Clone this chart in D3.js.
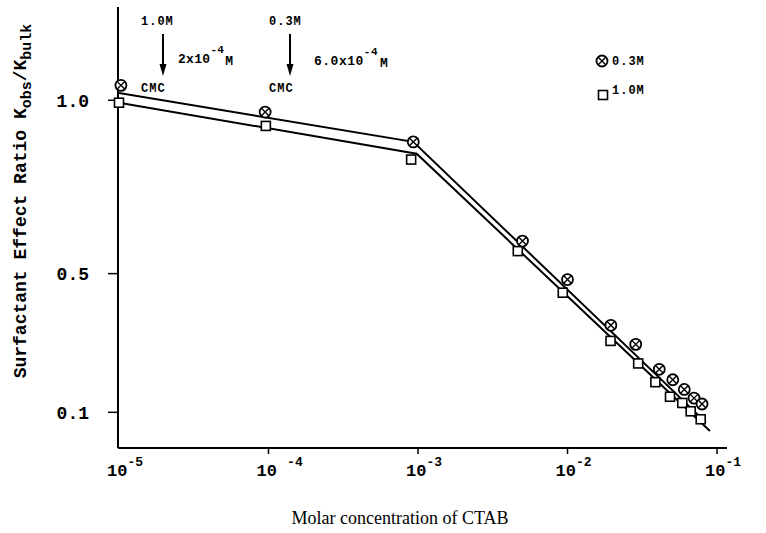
<!DOCTYPE html>
<html>
<head>
<meta charset="utf-8">
<script src="https://cdn.jsdelivr.net/npm/d3@7"></script>
<style>
  body { margin: 0; background: #fff; }
  svg { display: block; }
</style>
</head>
<body>
<div id="chart"></div>
<script>
// 0.3M CTAB points (circle with cross)
var conc03 = [1.03e-5, 9.5e-5, 9.3e-4, 0.0050, 0.0100, 0.0195, 0.0286, 0.0411, 0.0506, 0.0604, 0.0702, 0.0794];
var ratio03 = [1.043, 0.966, 0.880, 0.594, 0.483, 0.351, 0.296, 0.224, 0.194, 0.166, 0.141, 0.124];
// 1.0M CTAB points (open square)
var conc10 = [1.0e-5, 9.6e-5, 9.0e-4, 0.00465, 0.0093, 0.0194, 0.0297, 0.0387, 0.0485, 0.0586, 0.0667, 0.0778];
var ratio10 = [0.993, 0.926, 0.829, 0.565, 0.445, 0.306, 0.241, 0.187, 0.145, 0.127, 0.103, 0.080];
// fitted lines (break at the CMC)
var fitConc03 = [1.0e-5, 9.3e-4, 0.0843];
var fitRatio03 = [1.021, 0.880, 0.071];
var fitConc10 = [1.0e-5, 9.8e-4, 0.0897];
var fitRatio10 = [0.993, 0.846, 0.046];
// ticks
var xTicks = [1e-5, 1e-4, 1e-3, 1e-2, 1e-1];
var xTickExp = ["-5", "-4", "-3", "-2", "-1"];
var yTicks = [1.0, 0.5, 0.1];
var yTickLabels = ["1.0", "0.5", "0.1"];

var width = 766, height = 533;
var mono = "'Liberation Mono', 'DejaVu Sans Mono', monospace";

var svg = d3.select("#chart").append("svg")
    .attr("width", width)
    .attr("height", height);

var x = d3.scaleLog().domain([1e-5, 1e-1]).range([119, 717]);
var y = d3.scaleLinear().domain([0, 1.269]).range([447, 7]);

var axisX0 = 118;

// axes lines
svg.append("line")
    .attr("x1", axisX0).attr("x2", axisX0)
    .attr("y1", y.range()[1]).attr("y2", 448)
    .attr("stroke", "#000").attr("stroke-width", 2);
svg.append("line")
    .attr("x1", axisX0).attr("x2", 727)
    .attr("y1", 448).attr("y2", 448)
    .attr("stroke", "#000").attr("stroke-width", 2);

// x ticks
xTicks.forEach(function(t, i) {
    if (i > 0) {
        svg.append("line")
            .attr("x1", x(t)).attr("x2", x(t))
            .attr("y1", 448).attr("y2", 454)
            .attr("stroke", "#000").attr("stroke-width", 1.5);
    }
    var lab = svg.append("text")
        .attr("x", x(t) - 12)
        .attr("y", 476)
        .attr("font-family", mono)
        .attr("font-weight", "bold")
        .attr("font-size", 17)
        .attr("fill", "#000");
    lab.append("tspan").text(i == 1 ? "10 " : "10");
    lab.append("tspan").attr("dy", -10).attr("font-size", 13).text(xTickExp[i]);
});

// y ticks
yTicks.forEach(function(t, i) {
    svg.append("line")
        .attr("x1", axisX0 - 10).attr("x2", axisX0)
        .attr("y1", y(t)).attr("y2", y(t))
        .attr("stroke", "#000").attr("stroke-width", 1.5);
    svg.append("text")
        .attr("x", 89)
        .attr("y", y(t))
        .attr("dy", "0.35em")
        .attr("text-anchor", "end")
        .attr("font-family", mono)
        .attr("font-weight", "bold")
        .attr("font-size", 18)
        .attr("fill", "#000")
        .text(yTickLabels[i]);
});

// axis titles
svg.append("text")
    .attr("x", 400)
    .attr("y", 524)
    .attr("text-anchor", "middle")
    .attr("font-family", "'Liberation Serif', 'Times New Roman', serif")
    .attr("font-size", 18)
    .attr("fill", "#000")
    .text("Molar concentration of CTAB");

var ylab = svg.append("text")
    .attr("transform", "translate(26,201) rotate(-90)")
    .attr("text-anchor", "middle")
    .attr("font-family", mono)
    .attr("font-weight", "bold")
    .attr("font-size", 18)
    .attr("fill", "#000");
ylab.append("tspan").text("Surfactant Effect Ratio K");
ylab.append("tspan").attr("dy", 5).attr("font-size", 15).text("obs");
ylab.append("tspan").attr("dy", -5).text("/K");
ylab.append("tspan").attr("dy", 5).attr("font-size", 15).text("bulk");

// fitted lines
var line = d3.line()
    .x(function(d) { return x(d[0]); })
    .y(function(d) { return y(d[1]); });

[[fitConc03, fitRatio03], [fitConc10, fitRatio10]].forEach(function(f) {
    svg.append("path")
        .datum(d3.zip(f[0], f[1]))
        .attr("d", line)
        .attr("fill", "none")
        .attr("stroke", "#000")
        .attr("stroke-width", 2);
});

// markers
function drawCircleX(g, cx, cy) {
    var r = 5.5, k = r * 0.68;
    g.append("circle")
        .attr("cx", cx).attr("cy", cy).attr("r", r)
        .attr("fill", "#fff").attr("stroke", "#000").attr("stroke-width", 1.8);
    g.append("path")
        .attr("d", "M" + (cx - k) + "," + (cy - k) + "L" + (cx + k) + "," + (cy + k) +
                   "M" + (cx + k) + "," + (cy - k) + "L" + (cx - k) + "," + (cy + k))
        .attr("stroke", "#000").attr("stroke-width", 1.4);
}
function drawSquare(g, cx, cy) {
    var s = 9;
    g.append("rect")
        .attr("x", cx - s / 2).attr("y", cy - s / 2)
        .attr("width", s).attr("height", s)
        .attr("fill", "#fff").attr("stroke", "#000").attr("stroke-width", 1.6);
}

var pts = svg.append("g");
conc10.forEach(function(c, i) { drawSquare(pts, x(c), y(ratio10[i])); });
conc03.forEach(function(c, i) { drawCircleX(pts, x(c), y(ratio03[i])); });

// CMC annotations
function smallText(tx, ty, s, size, spacing) {
    return svg.append("text")
        .attr("x", tx).attr("y", ty)
        .attr("font-family", mono)
        .attr("font-weight", "bold")
        .attr("font-size", size || 12)
        .attr("letter-spacing", spacing == null ? 1 : spacing)
        .attr("fill", "#000")
        .text(s);
}
function arrow(ax, y1, y2) {
    svg.append("line")
        .attr("x1", ax).attr("x2", ax).attr("y1", y1).attr("y2", y2 - 10)
        .attr("stroke", "#000").attr("stroke-width", 2);
    svg.append("path")
        .attr("d", "M" + (ax - 3.5) + "," + (y2 - 12) + "L" + (ax + 3.5) + "," + (y2 - 12) + "L" + ax + "," + y2 + "Z")
        .attr("fill", "#000");
}

smallText(141, 25, "1.0M");
arrow(163, 34, 76);
smallText(141, 92, "CMC");
var t1 = smallText(178, 63, "2x10", 13, 0.3);
t1.append("tspan").attr("dy", -10).attr("font-size", 11).text("-4");
t1.append("tspan").attr("dy", 12).attr("dx", 1).attr("font-size", 13).text("M");

smallText(269, 25, "0.3M");
arrow(290, 34, 76);
smallText(269, 92, "CMC");
var t2 = smallText(314, 65, "6.0x10", 13, 0.5);
t2.append("tspan").attr("dy", -10).attr("font-size", 11).text("-4");
t2.append("tspan").attr("dy", 12).attr("dx", 2).attr("font-size", 13).text("M");

// legend
drawCircleX(svg, 602, 61);
smallText(612, 65, "0.3M");
drawSquare(svg, 603, 95);
smallText(612, 94, "1.0M");
</script>
</body>
</html>
